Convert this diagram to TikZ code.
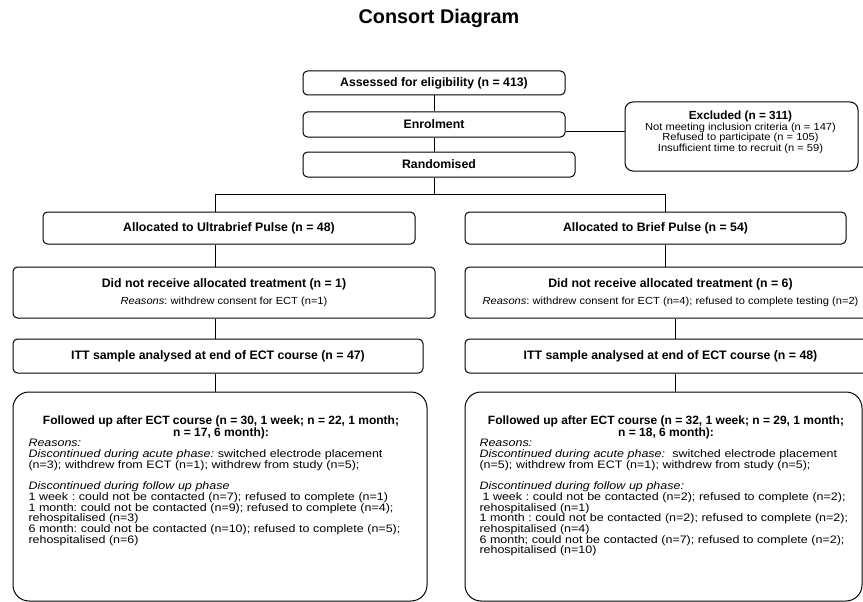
\documentclass[tikz,border=0pt]{standalone}
\usepackage{fontspec}
\setmainfont{Liberation Sans}
\newfontfamily\bodyfont{Liberation Sans}[FakeStretch=1.08]
\newfontfamily\fubodyfont{Liberation Sans}[FakeStretch=1.15]
\newcommand\rsnfont{\bodyfont\mdseries\fontsize{10.3}{12}\selectfont}
\frenchspacing
\usetikzlibrary{positioning}

\begin{document}
\begin{tikzpicture}[x=1pt,y=-1pt,line width=1pt,
  box/.style={draw,rounded corners=4.5pt,inner sep=0pt,align=center,
    font=\bfseries\fontsize{12.3}{14}\selectfont},
  fubox/.style={draw,rounded corners=16pt,inner sep=0pt},
  fuhead/.style={font=\bfseries\fontsize{12}{11}\selectfont,inner sep=0pt,align=center},
  reason/.style={font=\fubodyfont\fontsize{10.85}{10.7}\selectfont,inner sep=0pt,
    anchor=north west,text width=400pt,align=left}]
  \useasboundingbox (0,0) rectangle (863,602);
  % titulo
  \node[inner sep=0pt,font=\bfseries\fontsize{19.8}{22}\selectfont] (title) at (439,18.5) {Consort Diagram};
  % parte superior
  \node[box,minimum width=262pt,minimum height=24pt] (assess) at (434,83) {Assessed for eligibility (n = 413)};
  \node[box,minimum width=262pt,minimum height=25pt] (enrol) at (434,124.5) {Enrolment};
  \node[box,minimum width=272pt,minimum height=25pt] (rand) at (439,164.5) {Randomised};
  % excluidos
  \node[draw,rounded corners=8pt,minimum width=233pt,minimum height=69pt] (excl) at (741.5,136.5) {};
  \node[align=center,inner sep=0pt,font=\bodyfont\fontsize{10.3}{9.2}\selectfont] (excltxt) at (740.5,132)
    {{\normalfont\bfseries\fontsize{11.8}{9.2}\selectfont Excluded (n = 311)}\\
     Not meeting inclusion criteria (n = 147)\\
     Refused to participate (n = 105)\\
     Insufficient time to recruit (n = 59)};
  % rama izquierda
  \node[box,minimum width=372pt,minimum height=32pt] (allocL) at (229,228) {Allocated to Ultrabrief Pulse (n = 48)};
  \node[box,minimum width=422pt,minimum height=51pt] (dnrL) at (224,292.5)
    {Did not receive allocated treatment (n = 1)\\[3.3pt]
     {\rsnfont\textit{Reasons}: withdrew consent for ECT (n=1)}};
  \node[box,minimum width=410pt,minimum height=34pt] (ittL) at (218,356) {ITT sample analysed at end of ECT course (n = 47)};
  \node[fubox,minimum width=414pt,minimum height=209pt] (fuL) at (220,496.5) {};
  \node[fuhead] (fuLhead) at (221,427.5) {Followed up after ECT course (n = 30, 1 week; n = 22, 1 month;\\ n = 17, 6 month):};
  \node[reason] (fuLtxt) at (28,439) {\textit{Reasons:}\\
    \textit{Discontinued during acute phase:} switched electrode placement\\
    (n=3); withdrew from ECT (n=1); withdrew from study (n=5);\\[10.7pt]
    \textit{Discontinued during follow up phase}\\
    1 week : could not be contacted (n=7); refused to complete (n=1)\\
    1 month: could not be contacted (n=9); refused to complete (n=4);\\
    rehospitalised (n=3)\\
    6 month: could not be contacted (n=10); refused to complete (n=5);\\
    rehospitalised (n=6)};
  % rama derecha
  \node[box,minimum width=381pt,minimum height=32pt] (allocR) at (655.5,228) {Allocated to Brief Pulse (n = 54)};
  \node[box,minimum width=411pt,minimum height=51pt] (dnrR) at (670.5,292.5)
    {Did not receive allocated treatment (n = 6)\\[3.3pt]
     {\rsnfont\textit{Reasons}: withdrew consent for ECT (n=4); refused to complete testing (n=2)}};
  \node[box,minimum width=411pt,minimum height=34pt] (ittR) at (670.5,356) {ITT sample analysed at end of ECT course (n = 48)};
  \node[fubox,minimum width=397pt,minimum height=209pt] (fuR) at (663.5,496.5) {};
  \node[fuhead] (fuRhead) at (666,427.5) {Followed up after ECT course (n = 32, 1 week; n = 29, 1 month;\\ n = 18, 6 month):};
  \node[reason] (fuRtxt) at (479,439) {\textit{Reasons:}\\
    \textit{Discontinued during acute phase:}\ \ switched electrode placement\\
    (n=5); withdrew from ECT (n=1); withdrew from study (n=5);\\[10.7pt]
    \textit{Discontinued during follow up phase:}\\
    \hspace*{3pt}1 week : could not be contacted (n=2); refused to complete (n=2);\\
    rehospitalised (n=1)\\
    1 month : could not be contacted (n=2); refused to complete (n=2);\\
    rehospitalised (n=4)\\
    6 month; could not be contacted (n=7); refused to complete (n=2);\\
    rehospitalised (n=10)};
  % conectores
  \coordinate (split) at (434,194);
  \coordinate (colL) at (215.5,0);
  \coordinate (colR) at (665.5,0);
  \coordinate (colR2) at (675,0);
  \draw (assess) -- (enrol);
  \draw (enrol.south) -- (enrol.south |- rand.north);
  \draw (enrol.south |- rand.south) -- (split);
  \draw (allocL.north -| colL) -- (colL |- split) -- (colR |- split) -- (allocR.north -| colR);
  \draw ([yshift=-6.5pt]enrol.east) -- ([yshift=5.5pt]excl.west);
  \draw (allocL.south -| colL) -- (dnrL.north -| colL);
  \draw (dnrL.south -| colL) -- (ittL.north -| colL);
  \draw (ittL.south -| colL) -- (fuL.north -| colL);
  \draw (allocR.south -| colR) -- (dnrR.north -| colR);
  \draw (dnrR.south -| colR2) -- (ittR.north -| colR2);
  \draw (ittR.south -| colR2) -- (fuR.north -| colR2);
\end{tikzpicture}
\end{document}
